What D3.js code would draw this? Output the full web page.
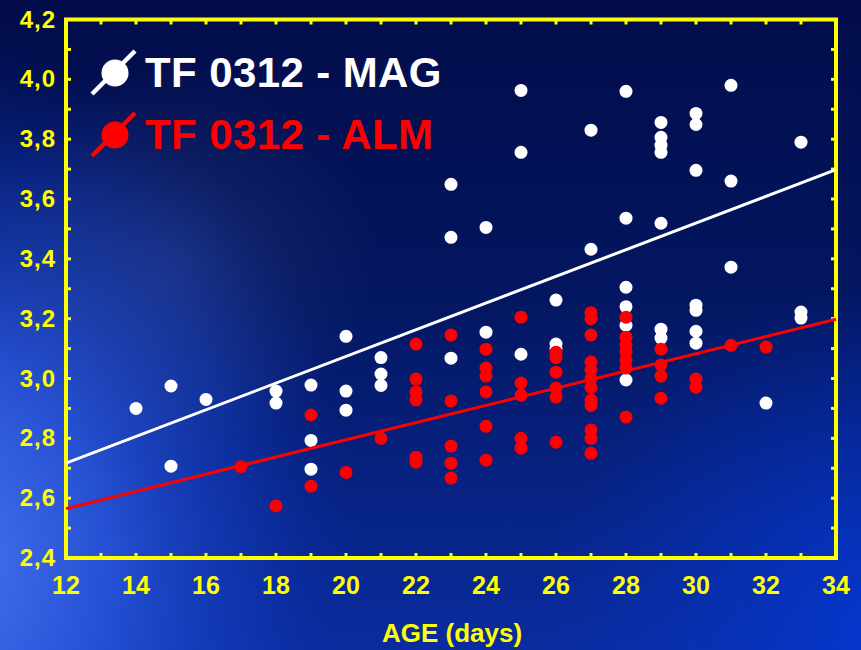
<!DOCTYPE html>
<html>
<head>
<meta charset="utf-8">
<script src="https://cdn.jsdelivr.net/npm/d3@7"></script>
<style>
  html, body { margin: 0; padding: 0; background: #020c48; }
  svg { display: block; }
</style>
</head>
<body>
<svg id="chart" width="861" height="650"></svg>
<script>
// Body weight vs age, two strains
const xTicks = [12, 14, 16, 18, 20, 22, 24, 26, 28, 30, 32, 34];
const yTicks = [2.4, 2.6, 2.8, 3.0, 3.2, 3.4, 3.6, 3.8, 4.0, 4.2];

// TF 0312 - MAG
const magAge = [
  14,
  15, 15,
  16,
  18, 18,
  19, 19, 19,
  20, 20, 20,
  21, 21, 21,
  23, 23, 23,
  24, 24,
  25, 25, 25,
  26, 26, 26,
  27, 27,
  28, 28, 28, 28, 28, 28,
  29, 29, 29, 29, 29, 29, 29,
  30, 30, 30, 30, 30, 30, 30,
  31, 31, 31,
  32,
  33, 33, 33
];
const magValue = [
  2.90,
  2.975, 2.707,
  2.93,
  2.958, 2.918,
  2.978, 2.793, 2.697,
  3.141, 2.958, 2.894,
  3.07, 3.015, 2.977,
  3.649, 3.472, 3.068,
  3.505, 3.155,
  3.963, 3.756, 3.081,
  3.262, 3.115, 3.10,
  3.83, 3.432,
  3.96, 3.536, 3.305, 3.24, 3.178, 2.995,
  3.856, 3.806, 3.78, 3.756, 3.519, 3.165, 3.135,
  3.886, 3.849, 3.696, 3.245, 3.228, 3.158, 3.118,
  3.98, 3.66, 3.372,
  2.918,
  3.79, 3.222, 3.202
];

// TF 0312 - ALM
const almAge = [
  17,
  18,
  19, 19,
  20,
  21,
  22, 22, 22, 22, 22, 22,
  23, 23, 23, 23, 23,
  24, 24, 24, 24, 24, 24,
  25, 25, 25, 25, 25,
  26, 26, 26, 26, 26, 26,
  27, 27, 27, 27, 27, 27, 27, 27, 27, 27, 27, 27,
  28, 28, 28, 28, 28, 28, 28,
  29, 29, 29, 29,
  30, 30,
  31,
  32
];
const almValue = [
  2.705,
  2.574,
  2.878, 2.64,
  2.686,
  2.80,
  3.115, 2.998, 2.955, 2.928, 2.737, 2.72,
  3.145, 2.925, 2.774, 2.717, 2.667,
  3.098, 3.035, 3.008, 2.955, 2.84, 2.727,
  3.205, 2.985, 2.944, 2.80, 2.767,
  3.088, 3.07, 3.021, 2.968, 2.938, 2.787,
  3.22, 3.20, 3.145, 3.055, 3.028, 3.0, 2.97, 2.928, 2.91, 2.828, 2.80, 2.75,
  3.205, 3.138, 3.111, 3.088, 3.061, 3.035, 2.871,
  3.098, 3.045, 3.008, 2.934,
  2.998, 2.971,
  3.111,
  3.105
];

// Linear fits, given as [age, value] end points
const magFit = [[12, 2.717], [34, 3.698]];
const almFit = [[12, 2.565], [34, 3.198]];

const seriesNames = ["TF 0312 - MAG", "TF 0312 - ALM"];
const seriesColors = ["#ffffff", "#ff0000"];
const axisLabel = "AGE (days)";

const svg = d3.select("#chart");
const W = 861, H = 650;
const margin = { left: 66, right: 861 - 836, top: 19.5, bottom: 650 - 558 };

// ---- background ----
const defs = svg.append("defs");
const lg = defs.append("linearGradient").attr("id", "bgLin")
  .attr("x1", 0).attr("y1", 0).attr("x2", 0).attr("y2", 1);
lg.append("stop").attr("offset", 0).attr("stop-color", "#020c4a");
lg.append("stop").attr("offset", 0.45).attr("stop-color", "#031660");
lg.append("stop").attr("offset", 1).attr("stop-color", "#0a2c9e");

// bright wash along the left edge, strongest toward the bottom
const rg1 = defs.append("radialGradient").attr("id", "bgLeft")
  .attr("gradientUnits", "userSpaceOnUse")
  .attr("cx", 0).attr("cy", 0).attr("r", 1)
  .attr("gradientTransform", "translate(-60,560) scale(420,520)");
rg1.append("stop").attr("offset", 0).attr("stop-color", "#4a78f4").attr("stop-opacity", 1);
rg1.append("stop").attr("offset", 0.4).attr("stop-color", "#2b58e0").attr("stop-opacity", 0.85);
rg1.append("stop").attr("offset", 0.75).attr("stop-color", "#1440c8").attr("stop-opacity", 0.4);
rg1.append("stop").attr("offset", 1).attr("stop-color", "#0a2aa0").attr("stop-opacity", 0);

const rg2 = defs.append("radialGradient").attr("id", "bgRight")
  .attr("gradientUnits", "userSpaceOnUse")
  .attr("cx", 900).attr("cy", 640).attr("r", 360);
rg2.append("stop").attr("offset", 0).attr("stop-color", "#0538d2").attr("stop-opacity", 1);
rg2.append("stop").attr("offset", 1).attr("stop-color", "#0432c0").attr("stop-opacity", 0);

const rg3 = defs.append("radialGradient").attr("id", "bgHaze")
  .attr("gradientUnits", "userSpaceOnUse")
  .attr("cx", 180).attr("cy", 260).attr("r", 200);
rg3.append("stop").attr("offset", 0).attr("stop-color", "#8aa0d8").attr("stop-opacity", 0.14);
rg3.append("stop").attr("offset", 1).attr("stop-color", "#8aa0d8").attr("stop-opacity", 0);

svg.append("rect").attr("width", W).attr("height", H).attr("fill", "url(#bgLin)");
svg.append("rect").attr("width", W).attr("height", H).attr("fill", "url(#bgRight)");
svg.append("rect").attr("width", W).attr("height", H).attr("fill", "url(#bgLeft)");
svg.append("rect").attr("width", W).attr("height", H).attr("fill", "url(#bgHaze)");

// ---- scales ----
const x = d3.scaleLinear().domain([12, 34]).range([margin.left, W - margin.right]);
const y = d3.scaleLinear().domain([2.4, 4.2]).range([H - margin.bottom, margin.top]);

const yellow = "#ffff00";
const font = "Arial, 'Liberation Sans', sans-serif";
const fmt = v => d3.format(".1f")(v).replace(".", ",");

// ---- frame with inward ticks ----
const frame = svg.append("g");
const minorX = d3.range(12, 34.001, 1);
const minorY = d3.range(2.4, 4.2001, 0.1);

minorX.forEach(d => {
  const len = 5;
  frame.append("line").attr("x1", x(d)).attr("x2", x(d))
    .attr("y1", y(2.4)).attr("y2", y(2.4) - len)
    .attr("stroke", yellow).attr("stroke-width", 3);
  frame.append("line").attr("x1", x(d)).attr("x2", x(d))
    .attr("y1", y(4.2)).attr("y2", y(4.2) + len)
    .attr("stroke", yellow).attr("stroke-width", 3);
});
minorY.forEach(d => {
  const len = 5;
  frame.append("line").attr("x1", x(12)).attr("x2", x(12) + len)
    .attr("y1", y(d)).attr("y2", y(d))
    .attr("stroke", yellow).attr("stroke-width", 3);
  frame.append("line").attr("x1", x(34)).attr("x2", x(34) - len)
    .attr("y1", y(d)).attr("y2", y(d))
    .attr("stroke", yellow).attr("stroke-width", 3);
});
frame.append("rect")
  .attr("x", x(12)).attr("y", y(4.2))
  .attr("width", x(34) - x(12)).attr("height", y(2.4) - y(4.2))
  .attr("fill", "none").attr("stroke", yellow).attr("stroke-width", 4);

// ---- tick labels ----
svg.append("g").selectAll("text").data(xTicks).join("text")
  .attr("x", d => x(d)).attr("y", 594)
  .attr("text-anchor", "middle")
  .attr("font-family", font).attr("font-weight", "bold").attr("font-size", 25)
  .attr("fill", yellow)
  .text(d => d);

svg.append("g").selectAll("text").data(yTicks).join("text")
  .attr("x", 56).attr("y", d => y(d) + 8)
  .attr("text-anchor", "end")
  .attr("font-family", font).attr("font-weight", "bold").attr("font-size", 24)
  .attr("letter-spacing", 1)
  .attr("fill", yellow)
  .text(d => fmt(d));

svg.append("text")
  .attr("x", 452).attr("y", 642)
  .attr("text-anchor", "middle")
  .attr("font-family", font).attr("font-weight", "bold").attr("font-size", 26)
  .attr("fill", yellow)
  .text(axisLabel);

// ---- points ----
const r = 6.5;
const magPts = magAge.map((a, i) => ({ a, v: magValue[i] }));
const almPts = almAge.map((a, i) => ({ a, v: almValue[i] }));

svg.append("g").selectAll("circle").data(magPts).join("circle")
  .attr("cx", d => x(d.a)).attr("cy", d => y(d.v)).attr("r", r)
  .attr("fill", seriesColors[0]);

svg.append("g").selectAll("circle").data(almPts).join("circle")
  .attr("cx", d => x(d.a)).attr("cy", d => y(d.v)).attr("r", r)
  .attr("fill", seriesColors[1]);

// ---- fit lines ----
const line = d3.line().x(d => x(d[0])).y(d => y(d[1]));
svg.append("path").attr("d", line(magFit))
  .attr("fill", "none").attr("stroke", seriesColors[0]).attr("stroke-width", 3);
svg.append("path").attr("d", line(almFit))
  .attr("fill", "none").attr("stroke", seriesColors[1]).attr("stroke-width", 3);

// ---- legend ----
const legend = svg.append("g");
seriesNames.forEach((name, i) => {
  const cy = 73 + i * 62;
  const g = legend.append("g");
  g.append("line")
    .attr("x1", 92).attr("y1", cy + 21).attr("x2", 135).attr("y2", cy - 22)
    .attr("stroke", seriesColors[i]).attr("stroke-width", 4.5);
  g.append("circle").attr("cx", 115).attr("cy", cy).attr("r", 13.5)
    .attr("fill", seriesColors[i]);
  g.append("text")
    .attr("x", 145).attr("y", cy + 14)
    .attr("font-family", font).attr("font-weight", "bold").attr("font-size", 42)
    .attr("letter-spacing", 0.4)
    .attr("fill", seriesColors[i])
    .text(name);
});
</script>
</body>
</html>
